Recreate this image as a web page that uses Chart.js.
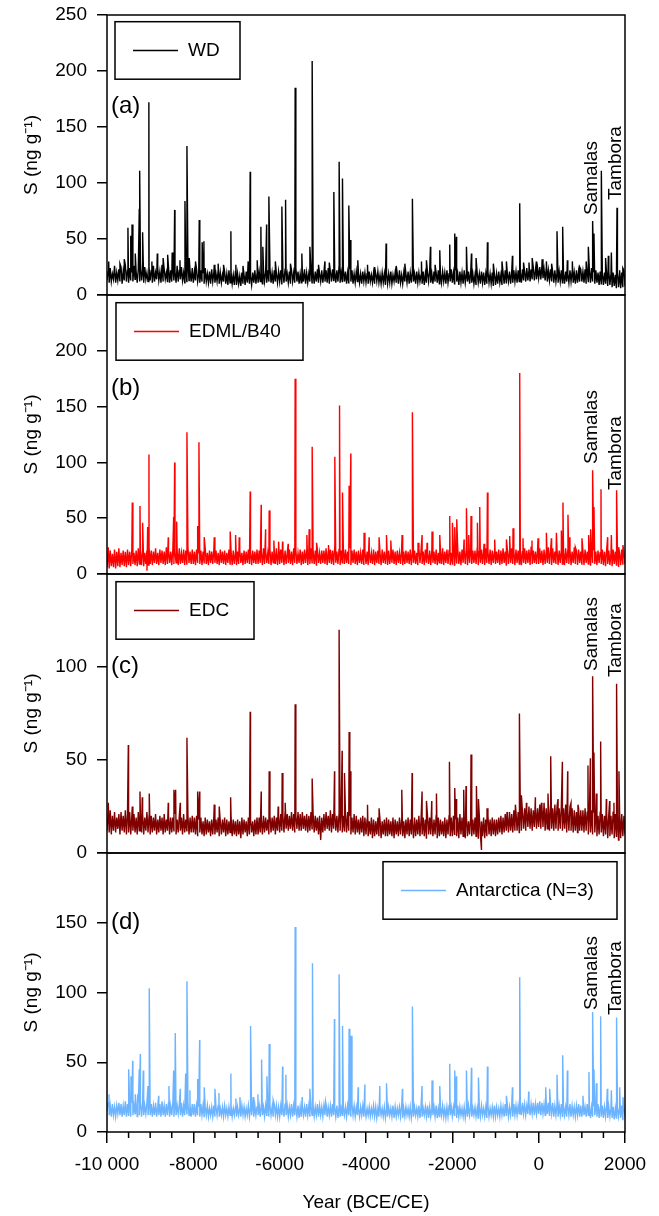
<!DOCTYPE html>
<html>
<head>
<meta charset="utf-8">
<script src="https://cdn.jsdelivr.net/npm/chart.js@4.4.1/dist/chart.umd.min.js"></script>
<style>
  html, body { margin: 0; padding: 0; background: #fff; }
  #wrap { position: relative; width: 659px; height: 1216px; overflow: hidden; }
  #wrap canvas { position: absolute; left: 0; }
</style>
</head>
<body>
<div id="wrap"></div>
<script>
// ---- data (years BCE/CE, sulfur in ng/g) ----
const baseStart = -10000;
const baseStep = 25;

// background band, one value every 25 years (-10000 ... 2000), one row = 500 years
const wdBase = [
  13,21,11,24,12,19,14,26,11,20,13,23,12,25,10,21,13,27,12,22,
  11,24,13,20,12,26,14,21,11,23,12,28,13,22,11,25,14,20,12,24,
  13,22,11,26,12,20,14,24,13,21,11,27,12,23,14,20,12,25,11,22,
  12,24,13,21,11,26,12,22,14,25,13,20,11,23,12,27,13,21,12,24,
  11,21,13,23,12,19,11,22,12,20,10,24,12,19,11,21,10,23,12,20,
  11,19,12,22,10,20,11,18,12,21,10,19,9,22,11,20,10,18,9,21,
  9,19,10,17,8,20,10,18,9,21,11,19,10,17,9,20,11,22,10,19,
  11,21,12,19,10,23,12,20,11,22,12,24,11,20,10,22,12,19,11,21,
  12,22,10,20,11,23,12,19,11,21,10,22,12,20,11,24,12,21,10,19,
  11,21,12,23,10,20,11,19,12,22,11,20,10,21,12,23,11,19,12,22,
  11,20,12,22,11,24,10,21,12,23,13,21,11,22,12,25,11,20,12,23,
  12,21,10,20,11,23,12,22,10,19,11,21,12,20,11,19,10,21,12,20,
  11,19,10,21,12,18,11,20,10,19,12,21,11,18,10,20,11,19,9,20,
  10,19,11,21,10,18,12,20,11,19,10,22,11,18,10,20,12,19,11,21,
  10,20,11,22,12,19,10,21,11,20,12,18,10,21,9,19,11,20,12,22,
  11,19,10,21,12,20,11,22,10,19,11,21,12,20,10,22,11,19,12,23,
  11,20,10,22,12,19,9,21,11,20,10,22,11,19,12,21,10,20,11,19,
  10,18,9,20,11,19,10,21,11,20,9,19,10,21,11,19,10,20,8,19,
  9,19,10,21,11,18,9,20,10,22,11,19,12,21,10,20,11,22,12,21,
  11,22,12,20,11,23,13,21,12,24,13,22,12,23,14,25,13,22,14,24,
  15,25,14,26,15,23,13,24,12,22,13,23,12,21,11,22,12,20,11,21,
  12,22,11,20,10,21,12,19,11,22,12,21,11,20,10,22,11,21,12,23,
  12,21,11,23,10,20,12,22,11,24,12,21,10,22,11,20,9,21,10,19,
  9,20,10,18,8,21,9,19,7,20,8,18,6,21,7,19,6,20,7,22,
  8
];
const edmlBase = [
  6,19,5,21,7,18,6,22,5,20,7,23,6,19,8,21,7,20,6,22,
  8,20,7,22,9,19,8,21,7,23,9,20,8,22,7,19,9,21,8,23,
  9,21,8,20,10,23,9,19,8,22,10,21,9,20,8,24,9,21,10,20,
  8,22,9,20,10,21,8,23,9,19,10,22,8,21,9,24,10,20,9,22,
  9,20,8,22,10,19,9,21,8,20,10,23,9,19,8,21,10,20,9,22,
  10,21,9,19,8,22,10,20,9,21,8,19,10,22,9,20,8,21,9,19,
  8,20,9,22,10,19,8,21,9,20,10,22,9,19,8,21,10,20,9,22,
  9,21,10,20,8,23,9,21,10,19,9,22,8,20,10,21,9,23,8,20,
  9,22,10,20,8,21,9,19,10,22,9,20,8,23,10,21,9,19,10,22,
  8,20,9,22,10,21,8,19,9,23,10,20,9,21,8,22,10,19,9,21,
  10,21,9,23,8,20,10,22,9,21,8,24,10,20,9,22,8,21,10,23,
  9,22,10,20,9,23,8,21,10,22,9,20,8,21,10,19,9,22,8,20,
  9,20,8,21,10,19,9,22,8,20,10,21,9,19,8,22,10,20,9,21,
  8,21,9,19,10,22,9,20,8,21,10,19,9,22,8,20,9,21,10,20,
  9,22,8,20,10,21,9,19,8,23,10,21,9,20,8,22,10,19,9,21,
  8,21,10,20,9,22,8,19,10,21,9,23,8,20,10,22,9,21,8,19,
  9,22,8,21,10,23,9,20,8,22,10,21,9,24,8,20,10,22,9,21,
  10,21,9,23,8,20,10,22,9,21,8,23,10,20,9,22,8,21,10,20,
  9,20,10,22,8,21,9,23,10,20,8,22,9,21,10,23,9,20,8,22,
  10,21,9,22,8,20,10,23,9,21,10,22,8,24,9,21,10,20,9,22,
  9,23,10,21,8,22,9,20,10,24,9,21,8,23,10,20,9,22,8,21,
  10,22,9,20,8,23,10,21,9,22,8,20,10,24,9,21,8,22,10,20,
  9,21,8,22,10,20,9,23,8,21,10,22,9,20,8,21,10,19,9,22,
  8,20,7,22,9,21,8,19,7,22,9,20,8,21,7,19,8,22,9,20,
  9
];
const edcBase = [
  12,21,11,23,10,20,12,22,11,19,13,21,10,22,12,20,11,23,10,21,
  11,22,10,20,12,21,11,19,10,22,12,20,11,21,10,19,12,22,11,20,
  10,20,11,19,12,21,10,18,11,20,12,19,10,21,11,18,12,20,10,19,
  11,19,12,21,10,18,11,20,12,19,10,21,11,18,12,20,10,19,11,20,
  11,19,10,20,9,18,11,19,10,17,9,19,10,18,11,17,9,18,10,19,
  10,18,11,19,9,17,10,18,11,19,9,18,10,17,11,19,9,18,10,17,
  9,18,10,17,8,19,10,18,11,17,9,19,10,18,11,17,9,18,10,19,
  10,19,11,18,10,20,11,19,12,18,10,20,11,19,12,20,10,19,12,20,
  11,21,12,20,11,22,13,21,12,20,13,22,12,21,11,20,13,22,12,21,
  12,22,13,20,12,21,11,20,12,22,13,21,11,20,12,19,10,20,7,19,
  11,21,12,22,13,20,12,23,11,21,13,22,12,20,11,21,12,23,11,20,
  12,21,11,22,12,20,10,19,11,21,10,20,11,18,10,19,11,20,9,19,
  10,18,9,17,10,19,8,18,9,17,10,19,9,18,8,17,10,18,9,19,
  9,18,10,17,9,19,8,18,10,17,9,19,10,18,9,17,8,18,10,19,
  9,18,10,17,8,19,9,18,10,20,9,18,10,19,9,18,8,20,10,19,
  10,19,9,18,10,20,8,19,9,18,10,17,9,19,8,18,10,20,9,19,
  9,20,10,18,9,19,8,21,10,19,9,18,8,20,9,17,10,19,9,18,
  10,19,9,18,8,20,10,17,9,19,8,18,9,20,10,18,9,19,10,18,
  9,18,10,19,11,20,10,19,11,21,12,20,11,22,12,21,11,23,12,22,
  12,22,11,23,12,22,13,24,12,23,14,25,13,24,12,23,14,25,13,24,
  14,26,13,25,14,27,12,24,13,26,12,25,13,24,12,26,13,25,12,24,
  13,25,12,24,13,26,11,23,12,25,12,24,11,23,12,22,11,24,12,23,
  12,23,11,24,12,22,10,21,11,23,10,22,11,21,9,20,10,22,11,21,
  9,20,10,22,8,21,9,20,10,22,8,21,9,20,7,22,8,21,9,20,
  10
];
const antBase = [
  15,21,12,19,11,20,12,18,11,19,13,21,12,20,11,19,12,22,11,20,
  12,20,11,21,12,19,13,20,11,21,12,22,11,20,12,19,13,21,12,20,
  12,20,11,19,12,21,11,18,12,20,11,22,12,19,11,20,12,21,11,19,
  12,21,11,20,12,19,13,20,12,21,11,19,12,20,13,21,12,19,11,20,
  12,20,11,19,12,18,11,20,12,19,11,18,12,19,11,17,12,18,11,19,
  11,18,12,19,11,17,12,18,11,19,12,17,11,18,12,19,11,17,12,18,
  11,18,12,17,11,19,12,18,11,17,12,19,11,18,12,20,11,19,12,18,
  12,19,11,20,12,18,11,19,12,20,11,19,12,18,11,20,12,19,11,18,
  11,19,12,18,11,20,12,19,11,18,12,20,11,19,12,18,11,19,10,18,
  11,19,12,18,11,20,12,19,11,18,12,19,11,18,12,20,11,19,12,18,
  11,19,12,20,11,18,12,19,11,20,12,18,11,19,10,18,11,17,12,18,
  12,18,11,19,12,18,11,20,12,19,11,18,12,17,11,18,12,19,11,17,
  11,17,12,18,11,17,12,19,11,18,10,17,11,18,12,17,11,18,10,17,
  11,18,12,17,11,19,10,18,11,17,12,18,11,19,10,17,11,18,12,17,
  11,18,10,17,11,18,12,17,11,19,10,18,11,17,12,18,11,19,10,18,
  11,17,12,18,11,19,10,17,11,18,12,19,11,17,10,18,11,19,12,18,
  11,18,12,17,10,19,11,18,12,17,11,18,10,17,11,19,12,18,11,17,
  12,18,11,17,10,18,11,19,12,17,11,18,10,19,11,17,12,18,11,19,
  11,18,12,17,11,19,12,18,11,20,12,19,11,18,12,19,11,20,12,19,
  12,19,13,20,12,21,13,20,12,19,13,21,12,20,13,21,12,20,13,21,
  13,22,12,21,13,20,12,22,13,21,12,20,13,21,11,19,12,20,11,19,
  12,20,11,19,12,18,11,19,12,20,11,19,12,18,11,19,12,20,11,19,
  11,19,12,18,11,20,12,19,10,18,11,19,12,18,11,20,10,18,11,19,
  10,18,11,19,10,18,11,17,10,18,9,17,10,18,11,17,10,19,9,17,
  11
];

// volcanic peaks
const wdPeakYears = [-9960,-9700,-9600,-9515,-9450,-9420,-9345,-9252,-9236,-9175,-9030,-8960,-8835,-8700,-8595,-8490,-8433,-8310,-8194,-8148,-8095,-7950,-7863,-7795,-7755,-7515,-7425,-7300,-7130,-7015,-6850,-6730,-6683,-6520,-6435,-6390,-6303,-6250,-6100,-5949,-5863,-5750,-5641,-5486,-5300,-5247,-5100,-4953,-4850,-4745,-4622,-4545,-4398,-4360,-4190,-3965,-3800,-3535,-3300,-3100,-2925,-2715,-2600,-2507,-2400,-2291,-2060,-1944,-1905,-1673,-1557,-1450,-1187,-1050,-850,-747,-608,-439,-350,-224,-150,-53,80,179,300,425,556,665,780,950,1100,1151,1250,1281,1452,1550,1614,1684,1815,1876,1950];
const wdPeakValues = [30,28,32,60,53,63,37,77,111,56,172,30,37,33,36,38,76,31,84,133,33,30,67,47,48,27,28,27,57,27,26,30,110,31,61,43,63,88,30,79,85,28,185,37,43,209,27,30,29,92,119,104,80,49,31,27,25,46,26,28,86,30,31,43,27,40,45,55,52,43,37,33,47,28,30,30,35,82,29,29,33,30,32,30,28,57,61,31,30,25,30,43,66,55,111,33,35,38,78,22,24];

const edmlPeakYears = [-9970,-9414,-9236,-9174,-9074,-9058,-9028,-8581,-8456,-8433,-8386,-8148,-7900,-7870,-7748,-7516,-7146,-7021,-6937,-6683,-6428,-6326,-6243,-6134,-6025,-5933,-5803,-5641,-5370,-5317,-5247,-5145,-4868,-4722,-4613,-4544,-4391,-4352,-4044,-3928,-3697,-3525,-3425,-3164,-2925,-2794,-2701,-2585,-2470,-2291,-2060,-1997,-1944,-1898,-1729,-1673,-1620,-1567,-1419,-1365,-1265,-1187,-1018,-747,-671,-594,-439,-363,-155,-15,179,295,411,526,563,679,718,850,1003,1158,1204,1250,1281,1444,1598,1684,1805,1853,1952];
const edmlPeakValues = [24,64,61,46,3,42,107,33,51,100,47,127,43,118,33,33,38,35,33,74,62,40,57,30,29,29,27,175,35,40,114,28,26,105,151,73,79,108,37,33,33,35,30,35,145,28,35,28,38,35,52,46,42,49,31,59,35,52,46,60,27,73,31,31,34,41,180,32,30,32,37,32,37,39,64,53,33,24,32,35,40,93,60,76,33,35,75,24,26];

const edcPeakYears = [-9970,-9506,-9414,-9236,-9183,-9021,-8581,-8449,-8410,-8303,-8148,-7900,-7854,-7516,-7400,-7136,-6683,-6428,-6243,-6035,-5942,-5872,-5641,-5247,-4729,-4623,-4553,-4498,-4391,-4359,-3965,-3697,-3171,-2932,-2701,-2599,-2477,-2368,-2067,-1944,-1905,-1736,-1682,-1567,-1442,-1395,-1326,-1196,-733,-539,-446,-400,-284,-76,63,216,279,448,549,672,749,911,1142,1198,1250,1281,1336,1436,1568,1644,1744,1805,1860];
const edcPeakValues = [27,58,25,33,30,32,27,34,34,27,62,33,33,26,25,30,76,33,44,25,43,27,80,40,44,120,55,43,65,44,26,24,34,43,33,28,28,32,49,35,29,34,36,53,36,29,2,24,22,26,75,31,27,30,27,32,52,29,49,44,27,26,47,51,95,54,32,60,29,28,27,91,44];

const antPeakYears = [-9954,-9498,-9444,-9405,-9345,-9289,-9252,-9229,-9160,-9051,-9021,-8803,-8565,-8456,-8419,-8303,-8178,-8148,-8079,-7900,-7854,-7748,-7500,-7407,-7130,-7014,-6921,-6674,-6613,-6504,-6419,-6296,-6243,-6150,-5933,-5856,-5641,-5479,-5300,-5240,-4937,-4731,-4623,-4544,-4391,-4345,-4182,-4027,-3680,-3525,-3155,-2925,-2701,-2470,-2291,-2060,-1944,-1905,-1673,-1557,-1395,-1187,-747,-608,-439,-231,163,255,425,556,665,1026,1165,1250,1281,1336,1436,1591,1684,1805,1876,1952];
const antPeakValues = [27,45,40,51,27,27,45,56,44,33,103,26,33,44,71,31,42,108,30,38,66,32,31,28,42,24,25,76,25,27,52,40,63,23,47,41,147,25,31,121,22,81,113,76,74,69,32,34,33,35,31,90,33,37,33,49,44,40,44,46,39,47,26,32,111,29,32,31,41,55,44,26,43,86,45,35,83,31,30,82,32,25];

// axes
const xMajorTicks = [-10000, -8000, -6000, -4000, -2000, 0, 2000];
const xTickLabels = ['-10 000', '-8000', '-6000', '-4000', '-2000', '0', '2000'];
const xMinorTicks = [-9500,-9000,-8500,-7500,-7000,-6500,-5500,-5000,-4500,-3500,-3000,-2500,-1500,-1000,-500,500,1000,1500];
const yTicksA = [0, 50, 100, 150, 200, 250];
const yLabelsA = ['0', '50', '100', '150', '200', '250'];
const yTicksB = [0, 50, 100, 150, 200, 250];
const yLabelsB = ['0', '50', '100', '150', '200', ''];
const yTicksC = [0, 50, 100, 150];
const yLabelsC = ['0', '50', '100', ''];
const yTicksD = [0, 50, 100, 150, 200];
const yLabelsD = ['0', '50', '100', '150', ''];

const volcanoNames = ['Samalas', 'Tambora'];
const volcanoYears = [1250, 1805];

const FONT = '"Liberation Sans", Arial, sans-serif';
Chart.defaults.font.family = FONT;
Chart.defaults.font.size = 19;
Chart.defaults.color = '#000';

function buildPoints(base, peakYears, peakValues) {
  const pts = base.map((v, i) => ({ x: baseStart + i * baseStep, y: v }));
  peakYears.forEach((yr, i) => pts.push({ x: yr, y: peakValues[i] }));
  pts.sort((p, q) => p.x - q.x);
  return pts;
}

// frame, legend box, panel letter, volcano names, minor ticks
const decorPlugin = {
  id: 'decor',
  afterDatasetsDraw(chart, args, opts) {
    const { ctx, chartArea: area } = chart;
    const xs = chart.scales.x;
    ctx.save();
    ctx.strokeStyle = '#000';
    ctx.lineWidth = 1.5;
    ctx.strokeRect(area.left, area.top, area.right - area.left, area.bottom - area.top);

    // legend
    const [bx, by, bw, bh] = opts.box;
    const x0 = area.left + bx, y0 = area.top + by;
    ctx.strokeRect(x0, y0, bw, bh);
    ctx.strokeStyle = opts.color;
    ctx.beginPath();
    ctx.moveTo(x0 + 18, y0 + bh / 2);
    ctx.lineTo(x0 + 63, y0 + bh / 2);
    ctx.stroke();
    ctx.fillStyle = '#000';
    ctx.font = '19px ' + FONT;
    ctx.textAlign = 'left';
    ctx.textBaseline = 'middle';
    ctx.fillText(chart.data.datasets[0].label, x0 + 73, y0 + bh / 2);

    // panel letter
    ctx.font = '24px ' + FONT;
    ctx.fillText(opts.letter, area.left + 4, area.top + opts.letterY);

    // volcano names
    ctx.font = '19px ' + FONT;
    volcanoNames.forEach((name, i) => {
      const px = xs.getPixelForValue(volcanoYears[i]) - 1;
      ctx.save();
      ctx.translate(px, area.top + opts.volcanoBottoms[i]);
      ctx.rotate(-Math.PI / 2);
      ctx.fillText(name, 0, 0);
      ctx.restore();
    });

    if (opts.minorTicks) {
      ctx.strokeStyle = '#000';
      ctx.lineWidth = 1.5;
      xMinorTicks.forEach(v => {
        const px = xs.getPixelForValue(v);
        ctx.beginPath();
        ctx.moveTo(px, area.bottom);
        ctx.lineTo(px, area.bottom + 6);
        ctx.stroke();
      });
    }
    ctx.restore();
  }
};

const panels = [
  { label: 'WD', color: '#000000', pts: buildPoints(wdBase, wdPeakYears, wdPeakValues), max: 250, yTicks: yTicksA, yLabels: yLabelsA,
    top: 0, height: 310, letter: '(a)', box: [8, 6.7, 125, 57.5], letterY: 91, volcanoBottoms: [200, 185], last: false },
  { label: 'EDML/B40', color: '#ff0000', pts: buildPoints(edmlBase, edmlPeakYears, edmlPeakValues), max: 250, yTicks: yTicksB, yLabels: yLabelsB,
    top: 280, height: 309, letter: '(b)', box: [9, 7.7, 187, 57.5], letterY: 93, volcanoBottoms: [169, 195], last: false },
  { label: 'EDC', color: '#800000', pts: buildPoints(edcBase, edcPeakYears, edcPeakValues), max: 150, yTicks: yTicksC, yLabels: yLabelsC,
    top: 559, height: 309, letter: '(c)', box: [9, 7.7, 138, 57.5], letterY: 92.5, volcanoBottoms: [97, 103], last: false },
  { label: 'Antarctica (N=3)', color: '#6cb4ff', pts: buildPoints(antBase, antPeakYears, antPeakValues), max: 200, yTicks: yTicksD, yLabels: yLabelsD,
    top: 838, height: 378, letter: '(d)', box: [276, 8.7, 234, 57.5], letterY: 69, volcanoBottoms: [157, 162], last: true }
];

const wrap = document.getElementById('wrap');

panels.forEach(p => {
  const canvas = document.createElement('canvas');
  canvas.width = 659;
  canvas.height = p.height;
  canvas.style.top = p.top + 'px';
  wrap.appendChild(canvas);

  new Chart(canvas.getContext('2d'), {
    type: 'line',
    data: {
      datasets: [{
        label: p.label,
        data: p.pts,
        borderColor: p.color,
        borderWidth: 1.4,
        pointRadius: 0,
        tension: 0,
        fill: false
      }]
    },
    options: {
      responsive: false,
      animation: false,
      events: [],
      layout: { padding: { top: 15, bottom: p.last ? 0 : 15, left: 0, right: 34 } },
      plugins: {
        legend: { display: false },
        tooltip: { enabled: false },
        decor: { color: p.color, letter: p.letter, box: p.box, letterY: p.letterY, volcanoBottoms: p.volcanoBottoms, minorTicks: p.last }
      },
      scales: {
        x: {
          type: 'linear',
          min: -10000,
          max: 2000,
          display: p.last,
          afterBuildTicks: s => { s.ticks = xMajorTicks.map(v => ({ value: v })); },
          afterFit: s => {
            s.height = p.last ? 84 : 0;
            s.paddingLeft = 0;
            s.paddingRight = 0;
          },
          grid: { drawOnChartArea: false, drawTicks: true, tickLength: 11, color: '#000', lineWidth: 1.5 },
          border: { display: false },
          ticks: { callback: (v, i) => xTickLabels[i], padding: 10, maxRotation: 0, autoSkip: false, color: '#000' },
          title: { display: true, text: 'Year (BCE/CE)', color: '#000', padding: { top: 0, bottom: 2 } }
        },
        y: {
          type: 'linear',
          min: 0,
          max: p.max,
          afterBuildTicks: s => { s.ticks = p.yTicks.map(v => ({ value: v })); },
          afterFit: s => {
            s.width = 107;
            s.paddingTop = 0;
            s.paddingBottom = 0;
          },
          grid: { drawOnChartArea: false, drawTicks: true, tickLength: 10, color: '#000', lineWidth: 1.5 },
          border: { display: false },
          ticks: { callback: (v, i) => p.yLabels[i], padding: 10, autoSkip: false, color: '#000' },
          title: { display: true, text: 'S (ng g⁻¹)', color: '#000', padding: { top: 20, bottom: 0 } }
        }
      }
    },
    plugins: [decorPlugin]
  });
});
</script>
</body>
</html>
